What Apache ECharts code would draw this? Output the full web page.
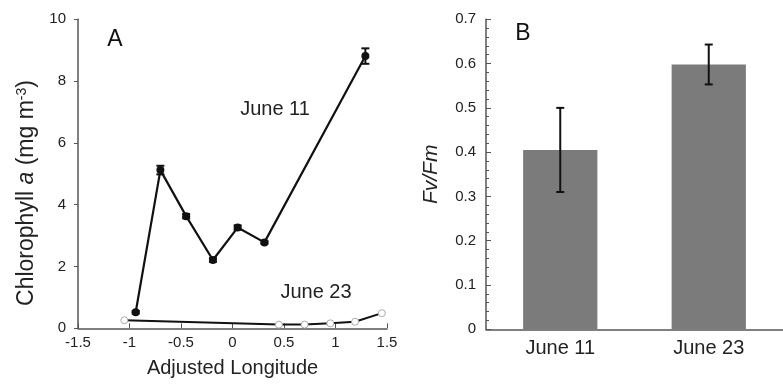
<!DOCTYPE html>
<html>
<head>
<meta charset="utf-8">
<script src="https://cdn.jsdelivr.net/npm/echarts@6/dist/echarts.min.js"></script>
<style>
html,body{margin:0;padding:0;background:#fff;}
#chart{width:783px;height:386px;}
</style>
</head>
<body>
<div id="chart"></div>
<script>
// ---- Panel A data ----
const lonJune11 = [-0.94, -0.70, -0.45, -0.19, 0.05, 0.31, 1.29];
const chlJune11 = [0.52, 5.12, 3.63, 2.21, 3.26, 2.78, 8.81];
const errJune11 = [0.04, 0.14, 0.07, 0.06, 0.07, 0.04, 0.25];
const lonJune23 = [-1.05, 0.45, 0.70, 0.95, 1.19, 1.45];
const chlJune23 = [0.26, 0.12, 0.12, 0.16, 0.21, 0.49];
const xTicksA = [-1.5, -1, -0.5, 0, 0.5, 1, 1.5];
const yTicksA = [0, 2, 4, 6, 8, 10];
// ---- Panel B data ----
const dates = ['June 11', 'June 23'];
const fvfm = [0.405, 0.598];
const fvfmErr = [0.095, 0.045];
const yTicksB = [0, 0.1, 0.2, 0.3, 0.4, 0.5, 0.6, 0.7];

const FONT = '"Liberation Sans", Arial, Helvetica, sans-serif';
const TXT = '#222';
const AX = '#555';

const june11Pts = lonJune11.map((x, i) => [x, chlJune11[i]]);
const june11Err = lonJune11.map((x, i) => [x, chlJune11[i], errJune11[i]]);
const june23Pts = lonJune23.map((x, i) => [x, chlJune23[i]]);
const barErr = dates.map((d, i) => [i, fvfm[i], fvfmErr[i]]);

function errRender(capHalf) {
  return function (params, api) {
    const x = api.value(0), y = api.value(1), e = api.value(2);
    const top = api.coord([x, y + e]);
    const bot = api.coord([x, y - e]);
    const st = {stroke: '#111', lineWidth: 2};
    return {
      type: 'group',
      children: [
        {type: 'line', shape: {x1: top[0], y1: top[1], x2: bot[0], y2: bot[1]}, style: st},
        {type: 'line', shape: {x1: top[0] - capHalf, y1: top[1], x2: top[0] + capHalf, y2: top[1]}, style: st},
        {type: 'line', shape: {x1: bot[0] - capHalf, y1: bot[1], x2: bot[0] + capHalf, y2: bot[1]}, style: st}
      ]
    };
  };
}

const chart = echarts.init(document.getElementById('chart'), null, {renderer: 'canvas'});
const option = {
  animation: false,
  textStyle: {fontFamily: FONT},
  grid: [
    {left: 78, top: 19.3, width: 309, height: 309},
    {left: 486, top: 19.3, width: 308, height: 310}
  ],
  xAxis: [
    {
      type: 'value', gridIndex: 0, min: xTicksA[0], max: xTicksA[xTicksA.length - 1], interval: 0.5,
      name: 'Adjusted Longitude', nameLocation: 'middle', nameGap: 30,
      nameTextStyle: {fontSize: 20, color: TXT, fontFamily: FONT},
      axisLine: {onZero: false, lineStyle: {color: AX, width: 1.5}},
      axisTick: {inside: true, length: 5, lineStyle: {color: AX, width: 1}},
      axisLabel: {fontSize: 15, color: TXT, margin: 7, fontFamily: FONT},
      splitLine: {show: false}
    },
    {
      type: 'category', gridIndex: 1, data: dates, boundaryGap: true,
      axisLine: {onZero: false, lineStyle: {color: AX, width: 1.5}},
      axisTick: {inside: true, length: 4, lineStyle: {color: AX, width: 1}},
      axisLabel: {fontSize: 20, color: TXT, margin: 9, fontFamily: FONT}
    }
  ],
  yAxis: [
    {
      type: 'value', gridIndex: 0, min: yTicksA[0], max: yTicksA[yTicksA.length - 1], interval: 2,
      axisLine: {show: true, onZero: false, lineStyle: {color: AX, width: 1.5}},
      axisTick: {show: true, inside: false, length: 4, lineStyle: {color: AX, width: 1}},
      axisLabel: {fontSize: 15, color: TXT, margin: 12, fontFamily: FONT},
      splitLine: {show: false}
    },
    {
      type: 'value', gridIndex: 1, min: yTicksB[0], max: yTicksB[yTicksB.length - 1], interval: 0.1,
      name: 'Fv/Fm', nameLocation: 'middle', nameGap: 44, nameRotate: 90,
      nameTextStyle: {fontSize: 21, fontStyle: 'italic', color: TXT, fontFamily: FONT},
      axisLine: {show: true, onZero: false, lineStyle: {color: AX, width: 1.5}},
      axisTick: {show: true, inside: true, length: 5, lineStyle: {color: AX, width: 1}},
      minorTick: {show: true, splitNumber: 5, length: 3, lineStyle: {color: AX, width: 1}},
      axisLabel: {fontSize: 15, color: TXT, margin: 10, fontFamily: FONT},
      splitLine: {show: false}
    }
  ],
  series: [
    {
      type: 'line', xAxisIndex: 0, yAxisIndex: 0, data: june23Pts,
      symbol: 'circle', symbolSize: 7,
      lineStyle: {color: '#111', width: 2},
      itemStyle: {color: '#fff', borderColor: '#aaa', borderWidth: 1}, z: 3
    },
    {
      type: 'line', xAxisIndex: 0, yAxisIndex: 0, data: june11Pts,
      symbol: 'circle', symbolSize: 8,
      lineStyle: {color: '#111', width: 2.2},
      itemStyle: {color: '#111'}, z: 4
    },
    {
      type: 'custom', xAxisIndex: 0, yAxisIndex: 0, data: june11Err,
      renderItem: errRender(4), z: 5
    },
    {
      type: 'bar', xAxisIndex: 1, yAxisIndex: 1, data: fvfm,
      barWidth: '50%', itemStyle: {color: '#7b7b7b'}
    },
    {
      type: 'custom', xAxisIndex: 1, yAxisIndex: 1, data: barErr,
      renderItem: errRender(4), z: 5
    }
  ],
  graphic: [
    {
      type: 'text', x: 27, y: 193, rotation: Math.PI / 2,
      style: {
        text: 'Chlorophyll {i|a} (mg m{sup|-3})',
        font: '23px ' + FONT, fill: TXT, align: 'center', verticalAlign: 'middle',
        rich: {
          i: {fontStyle: 'italic', fontSize: 23, fontFamily: FONT, fill: TXT},
          sup: {fontSize: 14, fontFamily: FONT, fill: TXT, verticalAlign: 'top', padding: [0, 0, 10, 0]}
        }
      }
    },
    {type: 'text', x: 115, y: 40, style: {text: 'A', font: '23px ' + FONT, fill: '#111', align: 'center', verticalAlign: 'middle'}},
    {type: 'text', x: 523, y: 34, style: {text: 'B', font: '23px ' + FONT, fill: '#111', align: 'center', verticalAlign: 'middle'}},
    {type: 'text', x: 275, y: 109, style: {text: 'June 11', font: '20px ' + FONT, fill: TXT, align: 'center', verticalAlign: 'middle'}},
    {type: 'text', x: 316, y: 292, style: {text: 'June 23', font: '20px ' + FONT, fill: TXT, align: 'center', verticalAlign: 'middle'}}
  ]
};
chart.setOption(option);
</script>
</body>
</html>
